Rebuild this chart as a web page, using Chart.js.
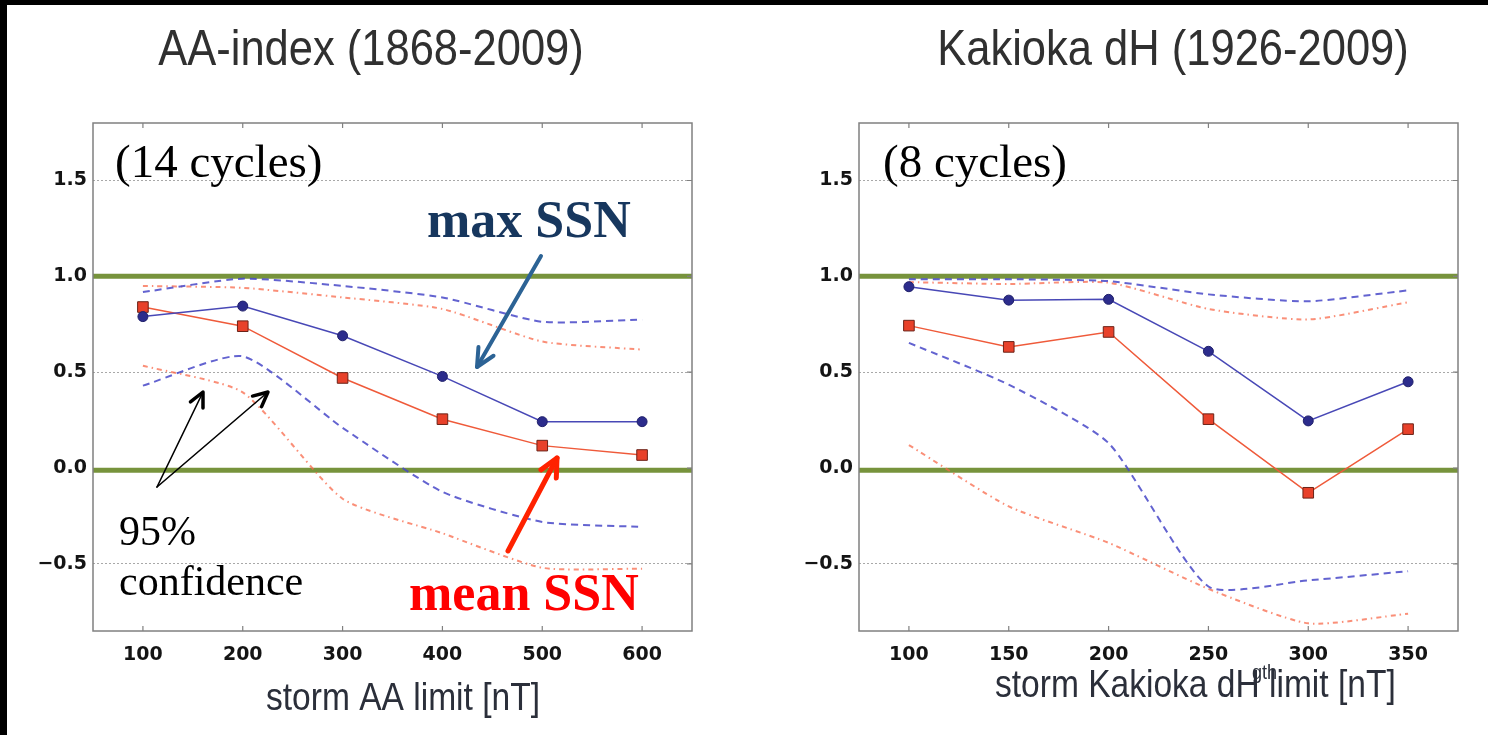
<!DOCTYPE html>
<html>
<head>
<meta charset="utf-8">
<script src="https://cdn.jsdelivr.net/npm/chart.js@4"></script>
<style>
  body { margin: 0; background: #fff; width: 1488px; height: 735px; overflow: hidden; position: relative; }
  canvas { position: absolute; top: 0; }
  .edge-top { position: absolute; left: 0; top: 0; width: 1488px; height: 5px; background: #000; }
  .edge-left { position: absolute; left: 0; top: 0; width: 7px; height: 735px; background: #000; }
</style>
</head>
<body>
<canvas id="aaChart" width="744" height="735" style="left:0"></canvas>
<canvas id="kakChart" width="744" height="735" style="left:744px"></canvas>
<div class="edge-top"></div>
<div class="edge-left"></div>
<script>
// AA-index storm limits and correlations
const aaLimits = [100, 200, 300, 400, 500, 600];
const aaMax = [0.79, 0.845, 0.69, 0.478, 0.242, 0.242];
const aaMean = [0.84, 0.74, 0.47, 0.255, 0.117, 0.068];
const aaMaxHi = [0.918, 0.988, 0.95, 0.89, 0.763, 0.775];
const aaMaxLo = [0.43, 0.583, 0.21, -0.124, -0.281, -0.307];
const aaMeanHi = [0.95, 0.94, 0.89, 0.83, 0.66, 0.618];
const aaMeanLo = [0.534, 0.395, -0.16, -0.34, -0.52, -0.525];

// Kakioka dH storm limits and correlations
const kakLimits = [100, 150, 200, 250, 300, 350];
const kakMax = [0.946, 0.876, 0.88, 0.609, 0.246, 0.45];
const kakMean = [0.743, 0.632, 0.71, 0.255, -0.129, 0.203];
const kakMaxHi = [0.985, 0.985, 0.975, 0.906, 0.87, 0.927];
const kakMaxLo = [0.653, 0.435, 0.13, -0.618, -0.586, -0.538];
const kakMeanHi = [0.97, 0.96, 0.967, 0.83, 0.775, 0.865];
const kakMeanLo = [0.12, -0.2, -0.39, -0.63, -0.81, -0.76];

const yTicks = [-0.5, 0, 0.5, 1.0, 1.5];
const refLevels = [1.0, -0.012];

const pts = (xs, ys) => xs.map((x, i) => ({ x: x, y: ys[i] }));

// plot frame with inward ticks on all sides
const frame = {
  id: 'frame',
  afterDatasetsDraw(chart) {
    const { ctx, chartArea: a, scales: { x, y } } = chart;
    ctx.save();
    ctx.strokeStyle = '#808080';
    ctx.lineWidth = 1.5;
    ctx.strokeRect(a.left, a.top, a.right - a.left, a.bottom - a.top);
    ctx.lineWidth = 1.2;
    ctx.beginPath();
    x.ticks.forEach(t => {
      const px = x.getPixelForValue(t.value);
      ctx.moveTo(px, a.top); ctx.lineTo(px, a.top + 5);
      ctx.moveTo(px, a.bottom); ctx.lineTo(px, a.bottom - 5);
    });
    y.ticks.forEach(t => {
      const py = y.getPixelForValue(t.value);
      ctx.moveTo(a.right, py); ctx.lineTo(a.right - 5, py);
    });
    ctx.stroke();
    ctx.restore();
  }
};

function arrow(ctx, a) {
  const ang = Math.atan2(a.y2 - a.y1, a.x2 - a.x1);
  ctx.save();
  ctx.strokeStyle = a.color;
  ctx.lineCap = 'round';
  ctx.lineJoin = 'round';
  ctx.lineWidth = a.width;
  ctx.beginPath();
  ctx.moveTo(a.x1, a.y1);
  ctx.lineTo(a.x2, a.y2);
  ctx.stroke();
  ctx.lineWidth = a.headWidth || a.width;
  ctx.beginPath();
  ctx.moveTo(a.x2 - a.head * Math.cos(ang - 0.45), a.y2 - a.head * Math.sin(ang - 0.45));
  ctx.lineTo(a.x2, a.y2);
  ctx.lineTo(a.x2 - a.head * Math.cos(ang + 0.45), a.y2 - a.head * Math.sin(ang + 0.45));
  ctx.stroke();
  ctx.restore();
}

// titles, axis label, callouts
function notes(texts, arrows) {
  return {
    id: 'notes',
    afterDraw(chart) {
      const ctx = chart.ctx;
      arrows.forEach(a => arrow(ctx, a));
      texts.forEach(t => {
        ctx.save();
        ctx.translate(t.x, t.y);
        ctx.scale(t.sx || 1, 1);
        ctx.font = t.font;
        ctx.fillStyle = t.color || '#000';
        ctx.textAlign = t.align || 'left';
        ctx.textBaseline = 'alphabetic';
        ctx.fillText(t.text, 0, 0);
        ctx.restore();
      });
    }
  };
}

function buildChart(id, limits, s, xMin, xMax, pad, plugin) {
  const datasets = [];
  refLevels.forEach(lvl => datasets.push({
    data: [{ x: xMin, y: lvl }, { x: xMax, y: lvl }],
    borderColor: '#77933c', borderWidth: 5, pointRadius: 0, order: 10
  }));
  [s.maxHi, s.maxLo].forEach(v => datasets.push({
    data: pts(limits, v), borderColor: 'rgba(72,72,200,0.85)', borderWidth: 2,
    borderDash: [7, 5], pointRadius: 0, tension: 0.2, order: 5
  }));
  [s.meanHi, s.meanLo].forEach(v => datasets.push({
    data: pts(limits, v), borderColor: 'rgba(248,105,75,0.75)', borderWidth: 2,
    borderDash: [5, 4, 1.5, 4], pointRadius: 0, tension: 0.2, order: 5
  }));
  datasets.push({
    data: pts(limits, s.max), borderColor: '#4848b6', borderWidth: 1.5,
    pointStyle: 'circle', pointRadius: 5, pointBackgroundColor: '#2c2c8c',
    pointBorderColor: '#20206a', pointBorderWidth: 1, order: 1
  });
  datasets.push({
    data: pts(limits, s.mean), borderColor: '#ef5a3a', borderWidth: 1.5,
    pointStyle: 'rect', pointRadius: 7.5, pointBackgroundColor: '#e8412a',
    pointBorderColor: '#6b2318', pointBorderWidth: 1, order: 1
  });

  const tickFont = { family: '"DejaVu Sans"', weight: 'bold', size: 19 };
  return new Chart(document.getElementById(id), {
    type: 'line',
    data: { datasets: datasets },
    options: {
      responsive: false,
      animation: false,
      devicePixelRatio: 1,
      layout: { padding: pad },
      plugins: { legend: { display: false }, tooltip: { enabled: false } },
      scales: {
        x: {
          type: 'linear', min: xMin, max: xMax,
          afterBuildTicks: sc => { sc.ticks = limits.map(v => ({ value: v })); },
          afterFit: sc => { sc.height = 40; },
          grid: { display: false },
          border: { display: false },
          ticks: { font: tickFont, color: '#141414', padding: 5 }
        },
        y: {
          min: -0.85, max: 1.8,
          afterBuildTicks: sc => { sc.ticks = yTicks.map(v => ({ value: v })); },
          afterFit: sc => { sc.width = 60; },
          grid: { color: '#a8a8a8', lineWidth: 1, drawTicks: false },
          border: { display: false, dash: [2, 2] },
          ticks: {
            font: tickFont, color: '#141414', padding: 6,
            callback: v => (v < 0 ? '\u2212' + Math.abs(v).toFixed(1) : v.toFixed(1))
          }
        }
      }
    },
    plugins: [frame, plugin]
  });
}

const sans = '"Liberation Sans", Arial, sans-serif';
const serif = '"Liberation Serif", "Times New Roman", serif';

buildChart('aaChart', aaLimits,
  { max: aaMax, mean: aaMean, maxHi: aaMaxHi, maxLo: aaMaxLo, meanHi: aaMeanHi, meanLo: aaMeanLo },
  50, 650, { left: 33, right: 52, top: 123, bottom: 64 },
  notes([
    { text: 'AA-index (1868-2009)', x: 371, y: 65, font: '50px ' + sans, sx: 0.87, color: '#303030', align: 'center' },
    { text: 'storm AA limit [nT]', x: 403, y: 710, font: '39px ' + sans, sx: 0.86, color: '#2b2f3a', align: 'center' },
    { text: '(14 cycles)', x: 115, y: 177, font: '47px ' + serif },
    { text: 'max SSN', x: 427, y: 237, font: 'bold 52px ' + serif, color: '#17375e' },
    { text: 'mean SSN', x: 409, y: 610, font: 'bold 52px ' + serif, color: '#ff0000' },
    { text: '95%', x: 119, y: 545, font: '42px ' + serif },
    { text: 'confidence', x: 119, y: 595, font: '42px ' + serif }
  ], [
    { x1: 541, y1: 256, x2: 477, y2: 367, color: '#2c6395', width: 4, head: 20 },
    { x1: 508, y1: 551, x2: 557, y2: 458, color: '#ff2200', width: 5, head: 20 },
    { x1: 157, y1: 487, x2: 203, y2: 392, color: '#000', width: 1.6, headWidth: 3.5, head: 16 },
    { x1: 157, y1: 487, x2: 268, y2: 392, color: '#000', width: 1.6, headWidth: 3.5, head: 16 }
  ]));

buildChart('kakChart', kakLimits,
  { max: kakMax, mean: kakMean, maxHi: kakMaxHi, maxLo: kakMaxLo, meanHi: kakMeanHi, meanLo: kakMeanLo },
  75, 375, { left: 55, right: 30, top: 123, bottom: 64 },
  notes([
    { text: 'Kakioka dH (1926-2009)', x: 429, y: 65, font: '50px ' + sans, sx: 0.87, color: '#303030', align: 'center' },
    { text: 'storm Kakioka dH limit [nT]', x: 251, y: 697, font: '39px ' + sans, sx: 0.86, color: '#2b2f3a' },
    { text: 'gth', x: 508, y: 679, font: '21px ' + sans, sx: 0.86, color: '#2b2f3a' },
    { text: '(8 cycles)', x: 139, y: 177, font: '47px ' + serif }
  ], []));
</script>
</body>
</html>
